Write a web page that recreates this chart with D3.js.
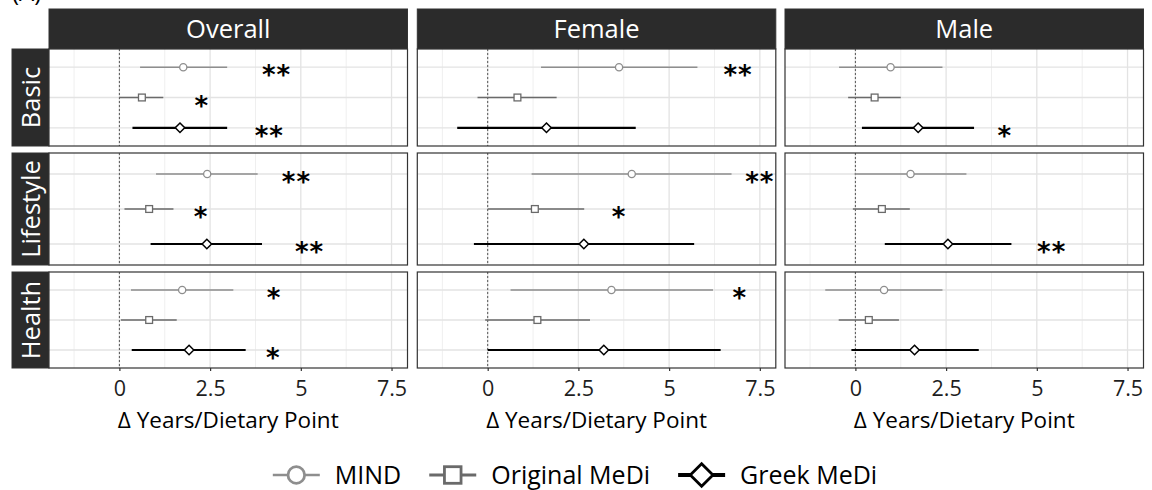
<!DOCTYPE html>
<html>
<head>
<meta charset="utf-8">
<script src="https://cdn.jsdelivr.net/npm/d3@7/dist/d3.min.js"></script>
<style>
  html, body { margin: 0; padding: 0; background: #fff; }
  svg { display: block; font-family: "Open Sans", "Noto Sans", sans-serif; }
</style>
</head>
<body>
<svg id="chart" width="1152" height="490"></svg>
<script>
// ---------------- DATA ----------------
const facets = ["Overall", "Female", "Male"];
const rows = ["Basic", "Lifestyle", "Health"];
const series = ["MIND", "Original MeDi", "Greek MeDi"];
const xTicks = [0, 2.5, 5, 7.5];
const xMinorTicks = [-1.25, 1.25, 3.75, 6.25];
const xDomain = [-1.94, 7.94];
const xTitle = "\u0394 Years/Dietary Point";
const panelTag = "(A)";

// cell order: Basic-Overall, Basic-Female, Basic-Male, Lifestyle-Overall, Lifestyle-Female,
// Lifestyle-Male, Health-Overall, Health-Female, Health-Male
const mindEst = [1.76, 3.62, 0.97, 2.42, 3.97, 1.52, 1.73, 3.41, 0.79];
const mindLo  = [0.57, 1.47, -0.45, 1.01, 1.21, -0.02, 0.32, 0.63, -0.83];
const mindHi  = [2.97, 5.78, 2.40, 3.81, 6.72, 3.06, 3.14, 6.21, 2.40];
const mindSig = ["**", "**", "", "**", "**", "", "*", "*", ""];
const mindSigX = [4.33, 6.90, null, 4.88, 7.50, null, 4.26, 6.95, null];

const origEst = [0.62, 0.82, 0.53, 0.82, 1.30, 0.73, 0.82, 1.37, 0.37];
const origLo  = [0.00, -0.28, -0.20, 0.14, 0.00, -0.07, 0.04, -0.07, -0.46];
const origHi  = [1.21, 1.90, 1.25, 1.49, 2.66, 1.50, 1.58, 2.82, 1.20];
const origSig = ["*", "", "", "*", "*", "", "", "", ""];
const origSigX = [2.27, null, null, 2.25, 3.62, null, null, null, null];

const greekEst = [1.67, 1.62, 1.73, 2.41, 2.65, 2.55, 1.92, 3.20, 1.63];
const greekLo  = [0.36, -0.84, 0.18, 0.86, -0.38, 0.81, 0.34, 0.00, -0.11];
const greekHi  = [2.97, 4.08, 3.27, 3.93, 5.69, 4.30, 3.48, 6.42, 3.40];
const greekSig = ["**", "", "*", "**", "", "**", "*", "", ""];
const greekSigX = [4.13, null, 4.12, 5.24, null, 5.41, 4.24, null, null];

// ---------------- LAYOUT / STYLE ----------------
const facetLeft = [49, 417.3, 785];
const panelW = 358.5;
const rowTop = [49, 153, 272];
const rowH = [97, 112, 96];
const stripTop = 9, stripH = 40;
const rowStripLeft = 12, rowStripW = 37;

const seriesStyle = {
  "MIND":          { color: "#8e8e8e", lw: 1.4, shape: "circle",  est: mindEst,  lo: mindLo,  hi: mindHi,  sig: mindSig,  sigX: mindSigX },
  "Original MeDi": { color: "#6a6a6a", lw: 1.7, shape: "square",  est: origEst,  lo: origLo,  hi: origHi,  sig: origSig,  sigX: origSigX },
  "Greek MeDi":    { color: "#000000", lw: 2.2, shape: "diamond", est: greekEst, lo: greekLo, hi: greekHi, sig: greekSig, sigX: greekSigX }
};

const svg = d3.select("#chart");

function drawShape(g, shape, cx, cy, s, color, sw) {
  if (shape === "circle") {
    g.append("circle").attr("cx", cx).attr("cy", cy).attr("r", s)
      .attr("fill", "#fff").attr("stroke", color).attr("stroke-width", sw);
  } else if (shape === "square") {
    g.append("rect").attr("x", cx - s).attr("y", cy - s).attr("width", 2 * s).attr("height", 2 * s)
      .attr("fill", "#fff").attr("stroke", color).attr("stroke-width", sw);
  } else {
    const d = 1.35 * s;
    g.append("path").attr("d", `M${cx},${cy - d}L${cx + d},${cy}L${cx},${cy + d}L${cx - d},${cy}Z`)
      .attr("fill", "#fff").attr("stroke", color).attr("stroke-width", sw);
  }
}

// panel tag (cut off at top, as in the source figure)
svg.append("text").attr("x", 12).attr("y", 1).attr("font-size", 24).attr("fill", "#000").text(panelTag);

// x scales per facet
const xScales = facets.map((f, i) => d3.scaleLinear().domain(xDomain).range([facetLeft[i], facetLeft[i] + panelW]));

// column strips
facets.forEach((f, i) => {
  svg.append("rect").attr("x", facetLeft[i]).attr("y", stripTop).attr("width", panelW).attr("height", stripH)
    .attr("fill", "#2b2b2b").attr("stroke", "#333").attr("stroke-width", 1);
  svg.append("text").attr("x", facetLeft[i] + panelW / 2).attr("y", stripTop + stripH / 2 + 9)
    .attr("text-anchor", "middle").attr("font-size", 25.5).attr("fill", "#fff").text(f);
});

rows.forEach((r, ri) => {
  const top = rowTop[ri], h = rowH[ri];
  // row strip
  svg.append("rect").attr("x", rowStripLeft).attr("y", top).attr("width", rowStripW).attr("height", h)
    .attr("fill", "#2b2b2b").attr("stroke", "#333").attr("stroke-width", 1);
  svg.append("text")
    .attr("transform", `translate(${rowStripLeft + rowStripW / 2 + 9},${top + h / 2}) rotate(-90)`)
    .attr("text-anchor", "middle").attr("font-size", 25.5).attr("fill", "#fff").text(r);

  const y = d3.scalePoint().domain(series).range([top, top + h]).padding(0.6);

  facets.forEach((f, fi) => {
    const x = xScales[fi];
    const left = facetLeft[fi];
    const g = svg.append("g");
    g.append("rect").attr("x", left).attr("y", top).attr("width", panelW).attr("height", h).attr("fill", "#fff");
    // minor grid
    g.selectAll(".minor").data(xMinorTicks).enter().append("line")
      .attr("x1", d => x(d)).attr("x2", d => x(d)).attr("y1", top).attr("y2", top + h)
      .attr("stroke", "#efefef").attr("stroke-width", 1);
    // major grid
    g.selectAll(".major").data(xTicks).enter().append("line")
      .attr("x1", d => x(d)).attr("x2", d => x(d)).attr("y1", top).attr("y2", top + h)
      .attr("stroke", "#e3e3e3").attr("stroke-width", 1.3);
    g.selectAll(".hgrid").data(series).enter().append("line")
      .attr("x1", left).attr("x2", left + panelW).attr("y1", d => y(d)).attr("y2", d => y(d))
      .attr("stroke", "#e3e3e3").attr("stroke-width", 1.3);
    // zero reference line
    g.append("line").attr("x1", x(0)).attr("x2", x(0)).attr("y1", top).attr("y2", top + h)
      .attr("stroke", "#555").attr("stroke-width", 1).attr("stroke-dasharray", "2,2");

    const ci = ri * 3 + fi;
    series.forEach(s => {
      const st = seriesStyle[s];
      const yy = y(s);
      g.append("line").attr("x1", x(st.lo[ci])).attr("x2", x(st.hi[ci])).attr("y1", yy).attr("y2", yy)
        .attr("stroke", st.color).attr("stroke-width", st.lw);
      const sz = st.shape === "circle" ? 3.6 : (st.shape === "square" ? 3.4 : 3.5);
      drawShape(g, st.shape, x(st.est[ci]), yy, sz, st.color, st.shape === "diamond" ? 1.5 : 1.3);
      if (st.sig[ci]) {
        g.append("text").attr("x", x(st.sigX[ci])).attr("y", yy + 17)
          .attr("text-anchor", "middle").attr("font-family", "DejaVu Sans").attr("font-weight", "bold")
          .attr("font-size", 26).attr("letter-spacing", 1).attr("fill", "#000").text(st.sig[ci]);
      }
    });
    // border
    g.append("rect").attr("x", left).attr("y", top).attr("width", panelW).attr("height", h)
      .attr("fill", "none").attr("stroke", "#333").attr("stroke-width", 1.2);

    // x axis on bottom row
    if (ri === rows.length - 1) {
      const ax = svg.append("g").attr("transform", `translate(0,${top + h})`)
        .call(d3.axisBottom(x).tickValues(xTicks).tickSize(3).tickPadding(10).tickFormat(d3.format("~g")));
      ax.select(".domain").remove();
      ax.selectAll(".tick line").attr("stroke", "#333").attr("stroke-width", 1.2);
      ax.selectAll(".tick text").attr("font-size", 21.5).attr("fill", "#1e1e1e")
        .attr("font-family", "Open Sans, sans-serif");
      svg.append("text").attr("x", left + panelW / 2).attr("y", 428).attr("text-anchor", "middle")
        .attr("font-size", 22.5).attr("fill", "#000").text(xTitle);
    }
  });
});

// legend
const legY = 475;
const keyW = 47, gapKT = 15, gapTK = 28, legFont = 25;
const legG = svg.append("g");
const items = series.map(s => {
  const t = legG.append("text").attr("font-size", legFont).attr("fill", "#000").text(s);
  return { s, t, w: t.node().getComputedTextLength() };
});
const total = items.reduce((a, it) => a + keyW + gapKT + it.w, 0) + gapTK * (items.length - 1);
let cx = 575 - total / 2;
items.forEach(it => {
  const st = seriesStyle[it.s];
  legG.append("line").attr("x1", cx).attr("x2", cx + keyW).attr("y1", legY).attr("y2", legY)
    .attr("stroke", st.color).attr("stroke-width", st.lw * 1.9);
  const sz = st.shape === "circle" ? 8.3 : (st.shape === "square" ? 8.3 : 8.4);
  drawShape(legG, st.shape, cx + keyW / 2, legY, sz, st.color, 2.8);
  it.t.attr("x", cx + keyW + gapKT).attr("y", legY + 9);
  cx += keyW + gapKT + it.w + gapTK;
});
</script>
</body>
</html>
